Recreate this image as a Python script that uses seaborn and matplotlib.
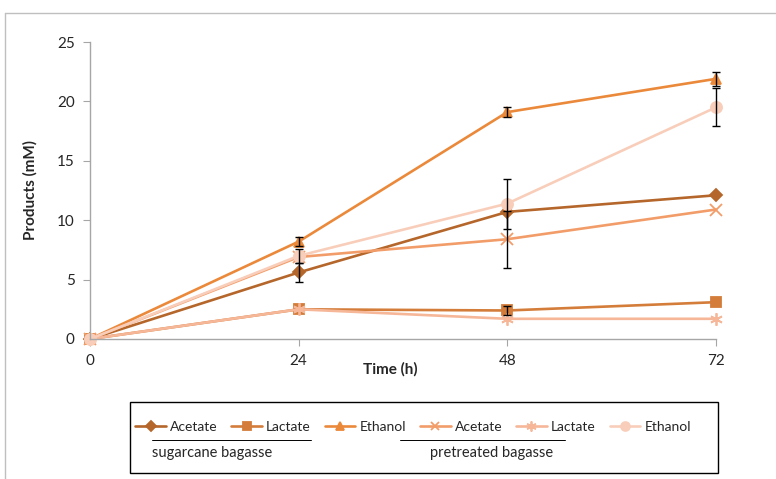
import pandas as pd
import matplotlib
matplotlib.use("Agg")
import matplotlib.pyplot as plt
from matplotlib.patches import Rectangle
from matplotlib.lines import Line2D
import seaborn as sns

# time points (h)
time_h = [0, 24, 48, 72]

# sugarcane bagasse
sc_acetate = [0, 5.6, 10.7, 12.1]
sc_lactate = [0, 2.5, 2.4, 3.1]
sc_ethanol = [0, 8.2, 19.1, 21.9]
sc_acetate_err = [0, 0.8, 0.0, 0.0]
sc_lactate_err = [0, 0.0, 0.4, 0.0]
sc_ethanol_err = [0, 0.4, 0.4, 0.6]

# pretreated bagasse
pt_acetate = [0, 6.9, 8.4, 10.9]
pt_lactate = [0, 2.5, 1.7, 1.7]
pt_ethanol = [0, 7.0, 11.4, 19.5]
pt_acetate_err = [0, 0.0, 2.4, 0.0]
pt_lactate_err = [0, 0.0, 0.0, 0.0]
pt_ethanol_err = [0, 0.6, 2.1, 1.6]

series = [
    ("Acetate", sc_acetate, sc_acetate_err, "#B5662A", "D", 6),
    ("Lactate", sc_lactate, sc_lactate_err, "#D47D3A", "s", 7),
    ("Ethanol", sc_ethanol, sc_ethanol_err, "#EB893B", "^", 7.5),
    ("Acetate", pt_acetate, pt_acetate_err, "#F29D69", "x", 8),
    ("Lactate", pt_lactate, pt_lactate_err, "#F6B798", (6, 2, 0), 9),
    ("Ethanol", pt_ethanol, pt_ethanol_err, "#F8CEBA", "o", 8),
]

sns.set_style("white")
plt.rcParams["font.family"] = ["Lato", "DejaVu Sans"]

fig = plt.figure(figsize=(7.76, 4.79), dpi=100)
ax = fig.add_axes([90 / 776, 1 - 339 / 479, 626 / 776, 297 / 479])

for name, vals, err, col, mk, ms in series:
    df = pd.DataFrame({"time": time_h, "value": vals})
    sns.lineplot(data=df, x="time", y="value", ax=ax, color=col, marker=mk,
                 markersize=ms, markeredgecolor=col, markeredgewidth=1.3,
                 linewidth=1.9, label=name, legend=False, clip_on=False)
    idx = [i for i, e in enumerate(err) if e > 0]
    if idx:
        ax.errorbar([time_h[i] for i in idx], [vals[i] for i in idx],
                    yerr=[err[i] for i in idx], fmt="none", ecolor="black",
                    elinewidth=1, capsize=3, capthick=1, zorder=5,
                    clip_on=False)

ax.set_xlim(0, 72)
ax.set_ylim(0, 25)
ax.set_xticks(time_h)
ax.set_yticks([0, 5, 10, 15, 20, 25])
ax.tick_params(axis="both", labelsize=11, length=5, color="#A6A6A6",
               direction="out", left=True, bottom=True, pad=6)
for s in ["top", "right"]:
    ax.spines[s].set_visible(False)
for s in ["left", "bottom"]:
    ax.spines[s].set_color("#A6A6A6")
    ax.spines[s].set_linewidth(1)
ax.set_xlabel("Time (h)", fontsize=11, fontweight="bold", va="center")
ax.xaxis.set_label_coords((390 - 90) / 626, (339 - 369) / 297)
ax.set_ylabel("Products (mM)", fontsize=11, fontweight="bold", va="center")
ax.yaxis.set_label_coords((30 - 90) / 626, 0.5)

handles = ax.get_lines()
handles = [h for h in handles if h.get_label() in ("Acetate", "Lactate", "Ethanol")]
fig.legend(handles=handles, labels=[h.get_label() for h in handles],
           loc="center", bbox_to_anchor=(413 / 776, 1 - 427 / 479), ncol=6,
           frameon=False, fontsize=10, handlelength=2.2, handletextpad=0.3,
           columnspacing=1.0, markerscale=0.8)

# legend box and group captions
fig.add_artist(Rectangle((130 / 776, 1 - 473 / 479), 588 / 776, 71 / 479,
                         transform=fig.transFigure, fill=False,
                         edgecolor="black", linewidth=1))
fig.add_artist(Line2D([152 / 776, 311 / 776], [1 - 440 / 479] * 2,
                      transform=fig.transFigure, color="black", linewidth=0.7))
fig.add_artist(Line2D([400 / 776, 565 / 776], [1 - 440 / 479] * 2,
                      transform=fig.transFigure, color="black", linewidth=0.7))
fig.text(152 / 776, 1 - 453 / 479, "sugarcane bagasse", fontsize=10.5,
         va="center", ha="left")
fig.text(430 / 776, 1 - 453 / 479, "pretreated bagasse", fontsize=10.5,
         va="center", ha="left")

# outer chart frame
fig.add_artist(Line2D([5 / 776, 5 / 776], [0, 1 - 13 / 479],
                      transform=fig.transFigure, color="#BFBFBF", linewidth=1))
fig.add_artist(Line2D([5 / 776, 1], [1 - 13 / 479] * 2,
                      transform=fig.transFigure, color="#BFBFBF", linewidth=1))

fig.savefig("out.png", dpi=100)
